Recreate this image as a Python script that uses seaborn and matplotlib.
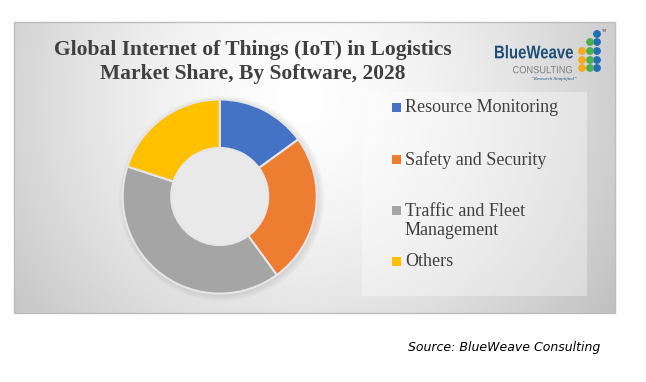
import numpy as np
import matplotlib
matplotlib.use("Agg")
import matplotlib.pyplot as plt
from matplotlib.patches import Rectangle, Circle, PathPatch
from matplotlib.textpath import TextPath
from matplotlib.font_manager import FontProperties
from matplotlib.transforms import Affine2D
import seaborn as sns

# ---- data ----
categories = ["Resource Monitoring", "Safety and Security",
              "Traffic and Fleet\nManagement", "Others"]
shares = [15, 25, 40, 20]
colors = ["#4472C4", "#ED7D31", "#A5A5A5", "#FFC000"]
title_lines = "Global Internet of Things (IoT) in Logistics\nMarket Share, By Software, 2028"
source_text = "Source: BlueWeave Consulting"

sns.set_theme(style="white")
plt.rcParams['font.family'] = ['DejaVu Sans']

W, H = 646, 382
fig = plt.figure(figsize=(W / 100, H / 100), dpi=100)
fig.patch.set_facecolor("white")

# background axes in pixel coordinates
bg = fig.add_axes([0, 0, 1, 1])
bg.set_xlim(0, W)
bg.set_ylim(H, 0)
bg.axis("off")


def fit_text(s, x0, x1, ytop, ybot, prop, color, z=4):
    tp = TextPath((0, 0), s, size=20, prop=prop)
    ext = tp.get_extents()
    sx = (x1 - x0) / ext.width
    sy = (ybot - ytop) / ext.height
    tr = (Affine2D().translate(-ext.x0, -ext.y0).scale(sx, -sy)
          .translate(x0, ybot) + bg.transData)
    bg.add_patch(PathPatch(tp, transform=tr, facecolor=color,
                           edgecolor="none", zorder=z))


# panel radial gradient
px0, py0, px1, py1 = 14, 22, 615, 313
xs = np.linspace(px0, px1, 300)
ys = np.linspace(py0, py1, 150)
X, Y = np.meshgrid(xs, ys)
d = np.hypot(X - 300, Y - 100)
val = 255 - 63 * (d / 380) ** 1.5
val = np.clip(val, 180, 255) / 255.0
img = np.dstack([val, val, val])
bg.imshow(img, extent=(px0, px1, py1, py0), aspect="auto", zorder=0,
          interpolation="bilinear")
bg.add_patch(Rectangle((px0, py0), px1 - px0, py1 - py0, fill=False,
                       edgecolor="#bdbdbd", linewidth=1.0, zorder=1))

# legend box
bg.add_patch(Rectangle((362, 92), 225, 204, facecolor="white", alpha=0.35,
                       edgecolor="none", zorder=1))

# title
bg.text(253, 62, title_lines, ha="center", va="center", fontsize=15.5,
        fontweight="bold", family=["Liberation Serif"], color="#404040",
        linespacing=1.25, zorder=3)

# logo
fit_text("BlueWeave", 495, 573, 45, 58.5,
         FontProperties(family="Liberation Sans", weight="bold"), "#1F4E79")
fit_text("CONSULTING", 513, 572, 66, 73.3,
         FontProperties(family="Liberation Sans"), "#7f7f7f")
bg.text(554, 78.5, "\u201cResearch Simplified\u201d", ha="center", va="center",
        fontsize=3.6, style="italic", family=["Liberation Serif"],
        color="#1F4E79", zorder=3)
for r, yy in enumerate([34, 42, 51, 60, 68]):
    bg.add_patch(Circle((597, yy), 3.2, color="#1F6FB8", zorder=3))
    if r >= 1:
        bg.add_patch(Circle((590, yy), 3.2, color="#4CAF50", zorder=3))
    if r >= 2:
        bg.add_patch(Circle((582, yy), 3.2, color="#F6A821", zorder=3))
bg.text(604, 31, "TM", fontsize=2.5, color="#404040", ha="center",
        va="center", zorder=3)

# legend entries (equal slots)
slot_y = [107, 159, 210, 261]
for lab, col, yy in zip(categories, colors, slot_y):
    bg.add_patch(Rectangle((392, yy - 4.5), 9, 9, facecolor=col,
                           edgecolor="none", zorder=3))
    bg.text(405, yy - 7.5, lab, ha="left", va="top", fontsize=13,
            family=["Liberation Serif"], color="#404040",
            linespacing=1.2, zorder=3)

# source
bg.text(600, 348, source_text, ha="right", va="center", fontsize=9,
        style="italic", family=["DejaVu Sans"], color="#000000", zorder=3)

# donut
cx, cy, R = 219.7, 196.5, 99
ax = fig.add_axes([(cx - R) / W, 1 - (cy + R) / H, 2 * R / W, 2 * R / H])
# soft shadow
for k in range(6):
    ax.add_patch(Circle((0.02, -0.02), 1.0 + 0.012 * k, color="#808080",
                        alpha=0.035, zorder=0, linewidth=0, clip_on=False))
ax.pie(shares, colors=colors, startangle=90, counterclock=False,
       wedgeprops=dict(width=0.5, edgecolor="#e6e6e6", linewidth=1.5))
ax.set_xlim(-1.02, 1.02)
ax.set_ylim(-1.02, 1.02)
ax.set_aspect("equal")
ax.axis("off")
ax.patch.set_alpha(0)
ax.add_patch(Circle((0, 0), 0.5, color="#e9e9e9", zorder=0.5))

fig.savefig("out.png", dpi=100, facecolor="white")
